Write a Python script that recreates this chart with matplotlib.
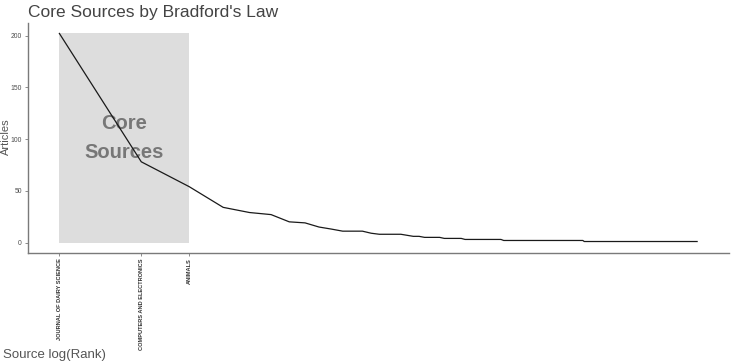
import numpy as np
import matplotlib
matplotlib.use("Agg")
import matplotlib.pyplot as plt
from matplotlib.patches import Rectangle

plt.rcParams['font.family'] = ['Liberation Sans', 'DejaVu Sans']

# Data: article counts per source, sorted by rank
freq_levels = [202, 78, 54, 34, 29, 27, 20, 19, 15, 13, 11, 9, 8, 7, 6, 5, 4, 3, 2, 1]
n_sources   = [1,   1,  1,  1,  1,  1,  1,  1,  1,  1,  3,  1, 4, 1, 2, 4, 5, 12, 42, 137]
core_sources = ["JOURNAL OF DAIRY SCIENCE", "COMPUTERS AND ELECTRONICS", "ANIMALS"]
y_ticks = [0, 50, 100, 150, 200]

articles = np.repeat(freq_levels, n_sources)
rank = np.arange(1, len(articles) + 1)
logrank = np.log(rank)
n_core = len(core_sources)

W, H = 731, 364
fig = plt.figure(figsize=(W / 100, H / 100), dpi=100)
left, right, top, bottom = 27.5, 729, 23, 253
ax = fig.add_axes([left / W, (H - bottom) / H, (right - left) / W, (bottom - top) / H])

xmax = logrank[-1]
ymax = articles.max()
ax.set_xlim(-0.05 * xmax, xmax * 1.05)
ax.set_ylim(-0.05 * ymax, ymax * 1.05)

ax.add_patch(Rectangle((0, 0), logrank[n_core - 1], ymax, facecolor="#dddddd",
                       edgecolor="none", zorder=1))
ax.plot(logrank, articles, color="#1a1a1a", lw=0.9, zorder=3)
ax.text(logrank[n_core - 1] / 2, ymax / 2, "Core\nSources", ha="center", va="center",
        fontsize=14.5, fontweight="bold", color="#777777", linespacing=1.65, zorder=2)

for s in ["top", "right"]:
    ax.spines[s].set_visible(False)
for s in ["left", "bottom"]:
    ax.spines[s].set_color("#7a7a7a")
    ax.spines[s].set_linewidth(1.0)

ax.set_yticks(y_ticks)
ax.set_yticklabels([str(v) for v in y_ticks], fontsize=4.9, color="#4d4d4d")
ax.set_xticks(logrank[:n_core])
ax.set_xticklabels(core_sources, rotation=90, fontsize=4.1, fontweight="bold",
                   color="#333333", va="top", ha="center")
ax.tick_params(axis="both", length=2.5, width=0.6, color="#7a7a7a", pad=1.5)

fig.text(5.5 / W, 1 - 137 / H, "Articles", fontsize=8.0, color="#555555",
         rotation=90, ha="center", va="center")
fig.text(3 / W, 1 - 355 / H, "Source log(Rank)", fontsize=9.5, color="#555555",
         ha="left", va="center")
fig.text(left / W, 1 - 12 / H, "Core Sources by Bradford's Law", fontsize=12.5,
         color="#444444", ha="left", va="center")

fig.savefig("out.png", dpi=100)
